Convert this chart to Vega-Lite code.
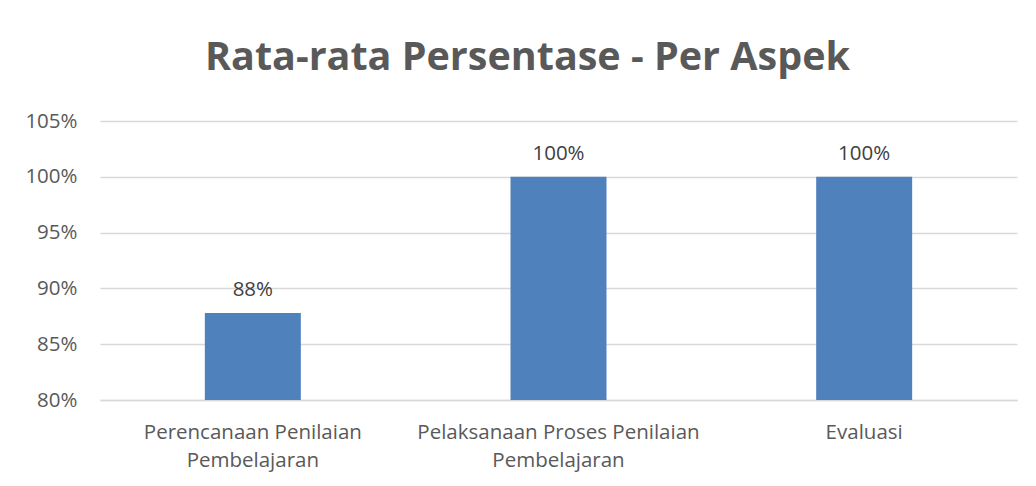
{
  "$schema": "https://vega.github.io/schema/vega-lite/v6.json",
  "autosize": {"type": "none"},
  "width": 917,
  "height": 279,
  "padding": {"left": 100, "top": 121, "right": 19, "bottom": 86},
  "background": "white",
  "title": {
    "text": "Rata-rata Persentase - Per Aspek",
    "font": "Open Sans",
    "fontSize": 39.5,
    "fontWeight": "bold",
    "color": "#595959",
    "anchor": "middle",
    "baseline": "alphabetic",
    "offset": 2,
    "dx": -31
  },
  "data": {
    "values": [
      {"aspek": "Perencanaan Penilaian Pembelajaran", "persen": 0.878, "label": "88%"},
      {"aspek": "Pelaksanaan Proses Penilaian Pembelajaran", "persen": 1.0, "label": "100%"},
      {"aspek": "Evaluasi", "persen": 1.0, "label": "100%"}
    ]
  },
  "encoding": {
    "x": {
      "field": "aspek",
      "type": "nominal",
      "sort": null,
      "scale": {"paddingInner": 0.686, "paddingOuter": 0.343},
      "axis": {
        "title": null,
        "labelAngle": 0,
        "labelFont": "Open Sans",
        "labelFontSize": 20.5,
        "labelColor": "#595959",
        "labelLineHeight": 28,
        "labelPadding": 22,
        "labelExpr": "split(replace(datum.value, ' Pembelajaran', '|Pembelajaran'), '|')",
        "ticks": false,
        "domain": true,
        "domainColor": "#d9d9d9",
        "domainWidth": 1.5,
        "labelLimit": 0
      }
    },
    "y": {
      "field": "persen",
      "type": "quantitative",
      "scale": {"domain": [0.8, 1.05], "clamp": true},
      "axis": {
        "title": null,
        "format": ".0%",
        "values": [0.8, 0.85, 0.9, 0.95, 1.0, 1.05],
        "labelFont": "Open Sans",
        "labelFontSize": 20.5,
        "labelColor": "#595959",
        "labelPadding": 23,
        "ticks": false,
        "domain": false,
        "grid": true,
        "gridColor": "#d9d9d9",
        "gridWidth": 1.5
      }
    }
  },
  "layer": [
    {"mark": {"type": "bar", "color": "#4F81BD", "clip": true}},
    {
      "mark": {"type": "text", "font": "Open Sans", "fontSize": 20.5, "color": "#404040", "baseline": "alphabetic", "dy": -17},
      "encoding": {"text": {"field": "label"}}
    }
  ],
  "config": {"view": {"stroke": null}}
}
